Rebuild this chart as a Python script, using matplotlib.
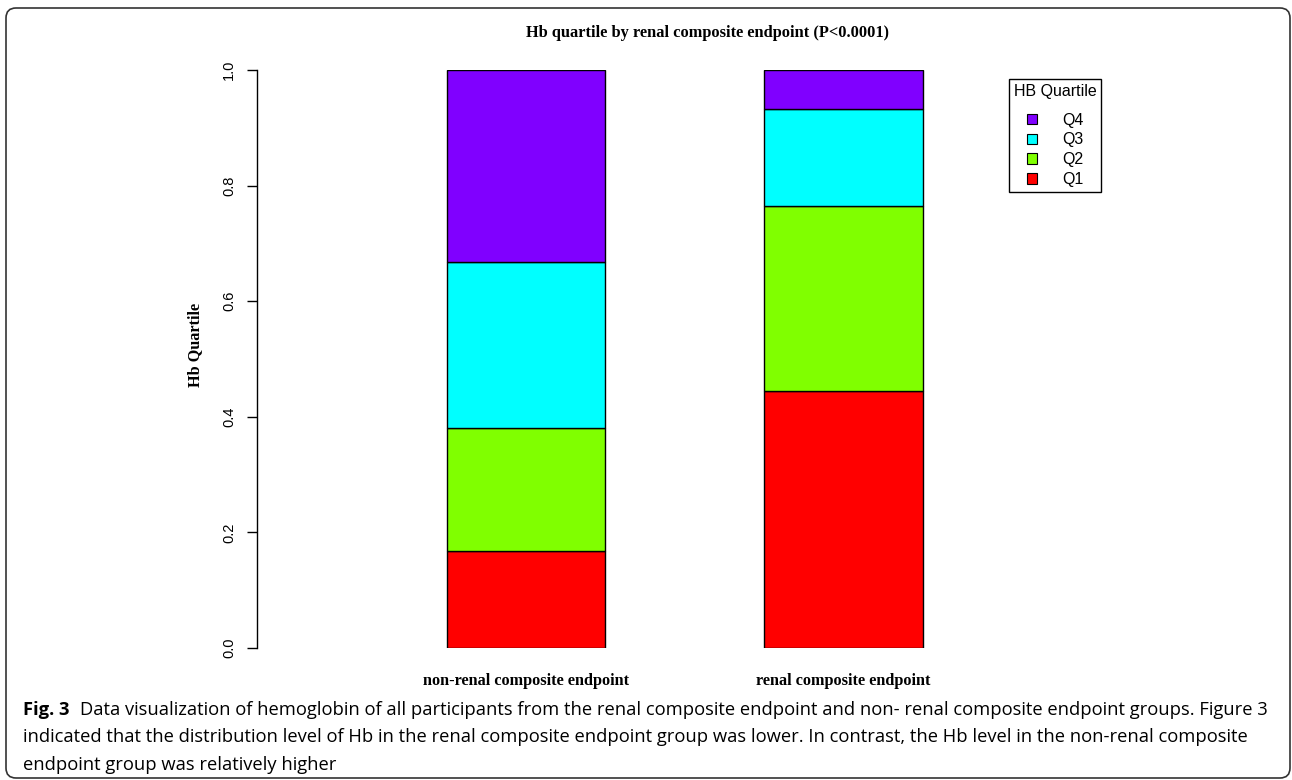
import numpy as np
from matplotlib import pyplot as plt
from matplotlib.patches import FancyBboxPatch, Patch

# proportions of each Hb quartile per group
groups = ['non-renal composite endpoint', 'renal composite endpoint']
quartiles = ['Q1', 'Q2', 'Q3', 'Q4']
q1 = [0.168, 0.445]
q2 = [0.213, 0.320]
q3 = [0.287, 0.168]
q4 = [0.332, 0.067]
colors = ['#FF0000', '#80FF00', '#00FFFF', '#8000FF']
yticks = [0.0, 0.2, 0.4, 0.6, 0.8, 1.0]

caption_bold = 'Fig. 3'
caption_lines = [
    'Data visualization of hemoglobin of all participants from the renal composite endpoint and non- renal composite endpoint groups. Figure 3',
    'indicated that the distribution level of Hb in the renal composite endpoint group was lower. In contrast, the Hb level in the non-renal composite',
    'endpoint group was relatively higher',
]

W, H = 1292, 780
fig = plt.figure(figsize=(W / 100, H / 100), dpi=100)

# outer rounded frame
frame = FancyBboxPatch((6, 2), 1284, 770, boxstyle='round,pad=0,rounding_size=10',
                       transform=None, fill=False, edgecolor='#333333', linewidth=1.2)
fig.patches.append(frame)

ax_l, ax_r, ax_b, ax_t = 257, 1159, 648, 70
ax = fig.add_axes([ax_l / W, 1 - ax_b / H, (ax_r - ax_l) / W, (ax_b - ax_t) / H])

x = np.arange(len(groups))
series = [q1, q2, q3, q4]
bottom = np.zeros(len(groups))
for vals, col in zip(series, colors):
    ax.bar(x, vals, width=0.5, bottom=bottom, color=col, edgecolor='black', linewidth=1)
    bottom = bottom + np.array(vals)

ax.set_xlim((ax_l - 526) / 317.5, (ax_r - 526) / 317.5)
ax.set_ylim(0, 1)
for s in ['top', 'right', 'bottom']:
    ax.spines[s].set_visible(False)
ax.spines['left'].set_linewidth(1)

ax.set_yticks(yticks)
ax.set_yticklabels(['%.1f' % v for v in yticks], rotation=90, va='center',
                   family='Liberation Sans', fontsize=10.5)
ax.tick_params(axis='y', length=7.2, width=1, pad=8)
ax.set_xticks(x)
ax.set_xticklabels(groups, family='Liberation Serif', fontweight='bold', fontsize=11.7)
ax.tick_params(axis='x', length=0, pad=18)

ax.set_ylabel('Hb Quartile', family='Liberation Serif', fontweight='bold', fontsize=11.7)
ax.yaxis.set_label_coords(-0.06, 0.525)

fig.text(708 / W, 1 - 33 / H, 'Hb quartile by renal composite endpoint (P<0.0001)',
         ha='center', va='center', family='Liberation Serif', fontweight='bold', fontsize=11.8)

handles = [Patch(facecolor=c, edgecolor='black', linewidth=0.8) for c in colors]
leg = fig.legend(handles[::-1], quartiles[::-1], title='HB Quartile', loc='upper left',
                 bbox_to_anchor=(1009 / W, 1 - 79 / H), borderaxespad=0, fancybox=False,
                 edgecolor='black', framealpha=1, prop={'family': 'Liberation Sans', 'size': 11.5},
                 title_fontproperties={'family': 'Liberation Sans', 'size': 11.5},
                 handlelength=0.65, handleheight=0.65, handletextpad=1.55, borderpad=0.3,
                 labelspacing=0.3)
leg.get_frame().set_linewidth(1)
leg._legend_box.sep = 10

# caption
fig.canvas.draw()
renderer = fig.canvas.get_renderer()
base = 715
t = fig.text(23 / W, 1 - base / H, caption_bold, ha='left', va='baseline', family='Open Sans',
             fontweight='bold', fontsize=13.2)
bold_end = t.get_window_extent(renderer).x1
for i, line in enumerate(caption_lines):
    if i == 0:
        xpos = (bold_end + 11) / W
    else:
        xpos = 23 / W
    fig.text(xpos, 1 - (base + 27.5 * i) / H, line, ha='left', va='baseline',
             family='Open Sans', fontsize=13.2)

fig.savefig('out.png', dpi=100)
